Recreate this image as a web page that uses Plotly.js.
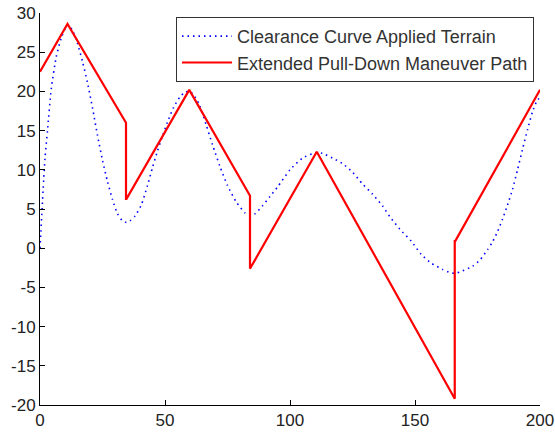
<!DOCTYPE html>
<html>
<head>
<meta charset="utf-8">
<script src="https://cdn.plot.ly/plotly-2.35.2.min.js"></script>
<style>html,body{margin:0;padding:0;background:#fff;}#chart{width:555px;height:433px;}</style>
</head>
<body>
<div id="chart"></div>
<script>
// Clearance Curve Applied Terrain (blue dotted)
var terrainX = [0, 2, 3, 4.5, 6.5, 8.5, 11, 13, 15, 17, 19, 21, 23, 25, 27, 29, 31, 33, 34.5, 36, 38, 40.5, 43, 45, 47, 49, 51, 53.5, 56, 58, 60, 62, 64, 66.5, 69, 72, 75, 78.5, 82, 84, 86, 89, 92, 95, 100, 105, 110.5, 113, 117, 121, 125, 129, 133, 137, 140, 144, 148.5, 152.5, 156.5, 161, 164, 166, 169, 173, 176, 179, 181, 183, 185, 187, 189, 191, 193, 195, 197, 198.5, 200];
var terrainY = [0, 11.5, 15, 20.3, 24.4, 26.8, 28.5, 27.8, 26.1, 23.8, 21.1, 17.9, 14.4, 11.2, 8.5, 6.2, 4.4, 3.5, 3.3, 3.5, 4.1, 5.5, 8.0, 10.3, 12.4, 14.3, 16.1, 18.0, 19.3, 19.9, 20.0, 19.3, 18.1, 15.7, 13.2, 10.4, 8.0, 5.9, 4.5, 4.2, 4.4, 5.4, 6.6, 7.8, 10.0, 11.5, 12.2, 12.1, 11.5, 10.8, 9.7, 8.2, 6.9, 5.4, 4.0, 2.4, 0.9, -0.8, -1.9, -2.7, -3.1, -3.2, -2.9, -2.3, -1.5, -0.2, 0.8, 2.1, 3.7, 5.5, 7.5, 10.0, 12.6, 15.1, 17.4, 18.6, 19.3];
// Extended Pull-Down Maneuver Path (red solid)
var pathX = [0, 11, 34.4, 34.4, 34.6, 59.7, 84, 84, 84.2, 110.7, 165.9, 165.9, 166.1, 200];
var pathY = [22.5, 28.6, 16.0, 6.3, 6.3, 20.2, 6.7, -2.6, -2.5, 12.3, -19.2, 0.9, 0.9, 20.2];
var seriesNames = ["Clearance Curve Applied Terrain", "Extended Pull-Down Maneuver Path"];
var xTicks = [0, 50, 100, 150, 200];
var yTicks = [-20, -15, -10, -5, 0, 5, 10, 15, 20, 25, 30];

var traces = [
  {x: terrainX, y: terrainY, mode: 'lines', name: seriesNames[0], line: {color: '#0000ff', width: 1.6, dash: '1.5px,4px', shape: 'spline', smoothing: 0.6}},
  {x: pathX, y: pathY, mode: 'lines', name: seriesNames[1], line: {color: '#ff0000', width: 2.2}}
];
var axisFont = {family: 'Liberation Sans, Arial, sans-serif', size: 17, color: '#222'};
var layout = {
  width: 555, height: 433,
  margin: {l: 40, r: 15, t: 12.5, b: 27.5, pad: 0},
  paper_bgcolor: '#fff', plot_bgcolor: '#fff',
  showlegend: true,
  legend: {x: 0.988, y: 0.99, xanchor: 'right', yanchor: 'top', bgcolor: '#fff', bordercolor: '#333', borderwidth: 1,
    font: {family: 'Liberation Sans, Arial, sans-serif', size: 18, color: '#333'}, itemwidth: 50, tracegroupgap: 0},
  xaxis: {range: [0, 200], tickvals: xTicks, ticktext: xTicks.map(String), ticks: 'inside', ticklen: 5, tickcolor: '#000',
    showline: true, linecolor: '#000', linewidth: 1, showgrid: false, zeroline: false, tickfont: axisFont, mirror: false},
  yaxis: {range: [-20, 30], tickvals: yTicks, ticktext: yTicks.map(String), ticks: 'inside', ticklen: 5, tickcolor: '#000',
    showline: true, linecolor: '#000', linewidth: 1, showgrid: false, zeroline: false, tickfont: axisFont, mirror: false}
};
Plotly.newPlot('chart', traces, layout, {displayModeBar: false, staticPlot: true});
</script>
</body>
</html>
